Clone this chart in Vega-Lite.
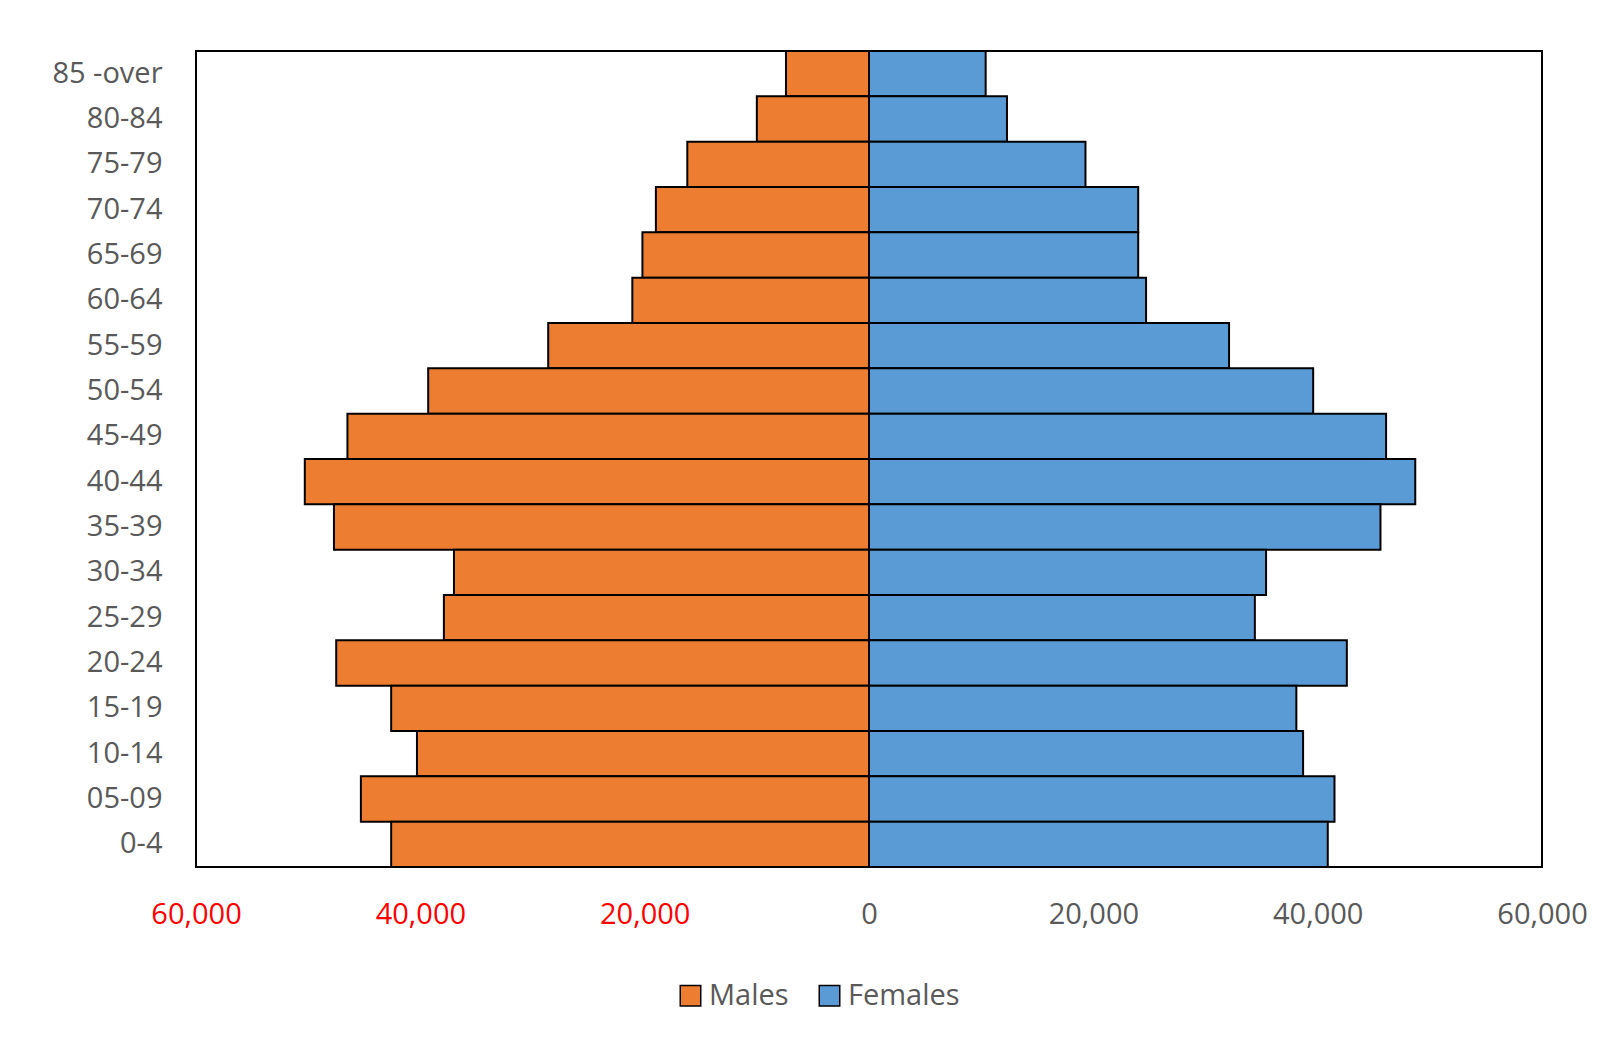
{
"$schema":"https://vega.github.io/schema/vega-lite/v6.json",
"width":1346,"height":816,
"autosize":{"type":"none"},
"padding":{"left":196,"top":51,"right":80,"bottom":220},
"background":"white",
"config":{"view":{"stroke":"black","strokeWidth":2},"font":"Open Sans"},
"data":{"values":[
{"age":"85 -over","sex":"Males","v":-7400},{"age":"85 -over","sex":"Females","v":10400},
{"age":"80-84","sex":"Males","v":-10000},{"age":"80-84","sex":"Females","v":12300},
{"age":"75-79","sex":"Males","v":-16200},{"age":"75-79","sex":"Females","v":19300},
{"age":"70-74","sex":"Males","v":-19000},{"age":"70-74","sex":"Females","v":24000},
{"age":"65-69","sex":"Males","v":-20200},{"age":"65-69","sex":"Females","v":24000},
{"age":"60-64","sex":"Males","v":-21100},{"age":"60-64","sex":"Females","v":24700},
{"age":"55-59","sex":"Males","v":-28600},{"age":"55-59","sex":"Females","v":32100},
{"age":"50-54","sex":"Males","v":-39300},{"age":"50-54","sex":"Females","v":39600},
{"age":"45-49","sex":"Males","v":-46500},{"age":"45-49","sex":"Females","v":46100},
{"age":"40-44","sex":"Males","v":-50300},{"age":"40-44","sex":"Females","v":48700},
{"age":"35-39","sex":"Males","v":-47700},{"age":"35-39","sex":"Females","v":45600},
{"age":"30-34","sex":"Males","v":-37000},{"age":"30-34","sex":"Females","v":35400},
{"age":"25-29","sex":"Males","v":-37900},{"age":"25-29","sex":"Females","v":34400},
{"age":"20-24","sex":"Males","v":-47500},{"age":"20-24","sex":"Females","v":42600},
{"age":"15-19","sex":"Males","v":-42600},{"age":"15-19","sex":"Females","v":38100},
{"age":"10-14","sex":"Males","v":-40300},{"age":"10-14","sex":"Females","v":38700},
{"age":"05-09","sex":"Males","v":-45300},{"age":"05-09","sex":"Females","v":41500},
{"age":"0-4","sex":"Males","v":-42600},{"age":"0-4","sex":"Females","v":40900}
]},
"mark":{"type":"bar","stroke":"black","strokeWidth":2},
"encoding":{
"y":{"field":"age","type":"nominal","sort":null,"title":null,
 "scale":{"paddingInner":0,"paddingOuter":0},
 "axis":{"domain":false,"ticks":false,"labelFontSize":29,"labelColor":"#595959","labelPadding":34}},
"x":{"field":"v","type":"quantitative","title":null,
 "scale":{"domain":[-60000,60000]},
 "axis":{"values":[-60000,-40000,-20000,0,20000,40000,60000],"grid":false,"domain":false,"ticks":false,
  "labelFontSize":29,"labelPadding":33,"labelFlush":false,"labelOverlap":false,
  "labelExpr":"format(abs(datum.value), ',')",
  "labelColor":{"condition":{"test":"datum.value < 0","value":"#ff0000"},"value":"#595959"}}},
"color":{"field":"sex","type":"nominal","scale":{"domain":["Males","Females"],"range":["#ed7d31","#5b9bd5"]},
 "legend":{"title":null,"orient":"none","legendX":480,"legendY":930,"direction":"horizontal",
  "symbolType":"square","symbolSize":420,"symbolStrokeColor":"black","symbolStrokeWidth":1.5,
  "labelFontSize":29,"labelColor":"#595959","columnPadding":26,"symbolOpacity":1}}
}
}
